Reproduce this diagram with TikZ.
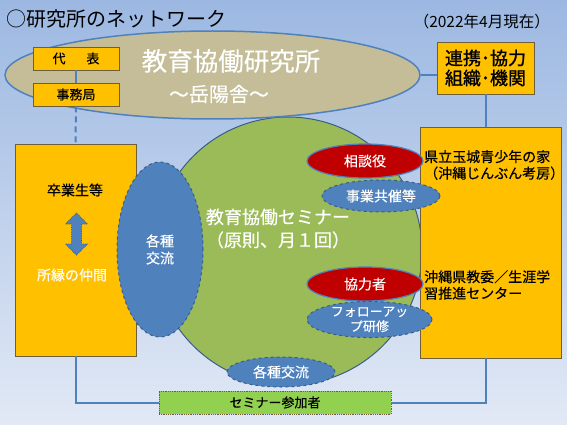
\documentclass[tikz,border=0pt]{standalone}
\usepackage{fontspec}
\setmainfont{Noto Sans CJK JP}[FakeBold=0.35]
\newfontfamily\boldcjk{Noto Sans CJK JP}[FakeBold=1.2]
\newfontfamily\plaincjk{Noto Sans CJK JP}
\usetikzlibrary{shapes.geometric}
\definecolor{bgtop}{RGB}{156,184,226}
\definecolor{bgbot}{RGB}{226,233,245}
\definecolor{orng}{RGB}{255,192,0}
\definecolor{tanc}{RGB}{196,189,151}
\definecolor{sgreen}{RGB}{155,187,89}
\definecolor{sblue}{RGB}{79,129,189}
\definecolor{dblue}{RGB}{56,93,138}
\definecolor{sred}{RGB}{192,0,0}
\definecolor{lgreen}{RGB}{146,208,80}
\definecolor{obord}{RGB}{110,95,60}
\newcommand\fsz[2]{\fontsize{#1pt}{#2pt}\selectfont}
\begin{document}
\begin{tikzpicture}[x=1pt,y=-1pt,
  obox/.style={rectangle, draw=obord, line width=0.8pt, fill=orng, inner sep=0pt},
  conn/.style={draw=sblue, line width=2pt},
  blueell/.style={ellipse, fill=sblue, draw=dblue, dashed, line width=1pt, inner sep=0pt, text=white, align=center},
  redell/.style={ellipse, fill=sred, draw=sblue, line width=1.2pt, inner sep=0pt, text=white},
  lbl/.style={inner sep=0pt, align=center}]
\useasboundingbox (0,0) rectangle (567,425);
\shade[top color=bgtop, bottom color=bgbot] (0,0) rectangle (567,425);

% title
\node[lbl, anchor=west, font=\plaincjk\fsz{20}{22}] (title) at (6,19) {○研究所のネットワーク};
\node[lbl, anchor=east, font=\plaincjk\fsz{15.5}{17}] (date) at (550,21.5) {（2022年4月現在）};

% seminar circle
\node[circle, fill=sgreen, draw=dblue, line width=1pt, minimum size=268pt, inner sep=0pt] (sem) at (288,251) {};

% institute ellipse
\node[ellipse, fill=tanc, draw=sblue, line width=1.5pt, minimum width=415pt, minimum height=88pt, inner sep=0pt] (ken) at (212.5,75) {};
\node[lbl, text=white, font=\fsz{25.5}{27}] (kenname) at (231,61) {教育協働研究所};
\node[lbl, text=white, font=\fsz{20}{22}] (kensub) at (219,94) {～岳陽舎～};

% boxes
\node[obox, minimum width=86pt, minimum height=23pt, font=\fsz{13}{15}] (daihyo) at (76,58.5) {代\hspace{1.6em}表};
\node[obox, minimum width=86pt, minimum height=23pt, font=\fsz{13}{15}] (jimu) at (76,94.5) {事務局};
\node[obox, minimum width=97pt, minimum height=52pt, align=center, font=\fsz{18}{20}\boldcjk] (renkei) at (485.5,68) {連携･協力\\組織･機関};
\node[obox, minimum width=141pt, minimum height=231pt] (rightbox) at (490.5,242.5) {};
\node[obox, minimum width=121pt, minimum height=212pt] (leftbox) at (75.5,250) {};
\node[rectangle, fill=lgreen, draw=obord, densely dotted, line width=0.8pt, minimum width=232pt, minimum height=23pt, inner sep=0pt, font=\fsz{13}{15}] (part) at (275,402.5) {セミナー参加者};

% connectors
\draw[conn] (daihyo.south) -- (jimu.north);
\draw[conn, dash pattern=on 6pt off 4pt] (jimu.south) -- (leftbox.north);
\draw[conn] (ken.east) -- (ken.east -| renkei.west);
\draw[conn] (renkei.south) -- (renkei.south |- rightbox.north);
\draw[conn] (leftbox.south) |- (part.west);
\draw[conn] (renkei.south |- rightbox.south) |- (part.east);

% left box contents
\node[lbl, font=\fsz{14}{16}] (sotsu) at (75,190) {卒業生等};
\node[lbl, text=white, font=\fsz{14}{16}] (yukari) at (72,275) {所縁の仲間};
\draw[fill=sblue, draw=dblue, densely dotted, line width=0.8pt]
  (76.5,213) -- (87.5,224) -- (81.5,224) -- (81.5,244) -- (87.5,244) -- (76.5,255)
  -- (65.5,244) -- (71.5,244) -- (71.5,224) -- (65.5,224) -- cycle;

% seminar text
\node[lbl, text=white, font=\fsz{18}{23}] (semtext) at (278,228.5) {教育協働セミナー\\（原則、月１回）};

% ellipses
\node[blueell, minimum width=86pt, minimum height=175pt, font=\fsz{14}{17}] (kakushu) at (160,249.5) {各種\\交流};
\node[redell, minimum width=116pt, minimum height=34pt, font=\fsz{14}{16}] (soudan) at (365,161) {相談役};
\node[blueell, minimum width=118pt, minimum height=32pt, font=\fsz{14}{16}] (kyousai) at (381,196) {事業共催等};
\node[redell, minimum width=116pt, minimum height=34pt, font=\fsz{14}{16}] (kyouryoku) at (365,284) {協力者};
\node[blueell, minimum width=125pt, minimum height=35pt, font=\fsz{13}{15}] (follow) at (369.5,319.5) {フォローアッ\\プ研修};
\node[blueell, minimum width=108pt, minimum height=30pt, font=\fsz{14}{16}] (kouryu) at (281,372) {各種交流};

% right box contents
\node[lbl, anchor=west, align=left, font=\fsz{14}{16.5}] (seishonen) at (424,165) {県立玉城青少年の家\\（沖縄じんぶん考房）};
\node[lbl, anchor=west, align=left, font=\fsz{14}{16.5}] (kyoui) at (424,285) {沖縄県教委／生涯学\\習推進センター};
\end{tikzpicture}
\end{document}
